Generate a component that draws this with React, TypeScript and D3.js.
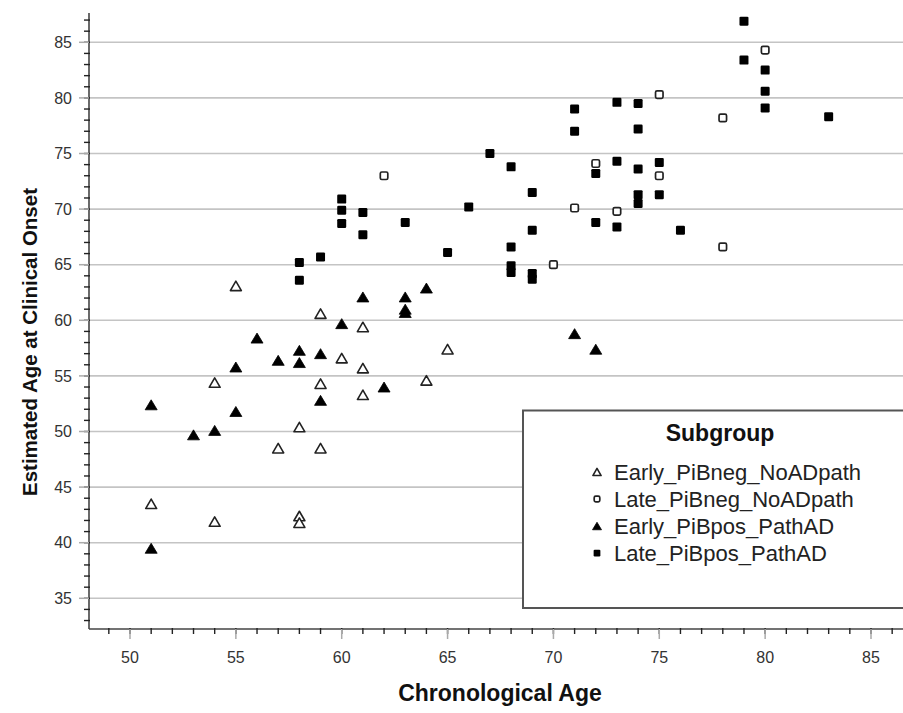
import React from "react";
import * as d3 from "d3";

const earlyNegAge = [51, 54, 54, 55, 57, 58, 58, 58, 59, 59, 59, 60, 61, 61, 61, 64, 65];
const earlyNegOnset = [43.5, 54.4, 41.9, 63.1, 48.5, 50.4, 42.4, 41.8, 60.6, 54.3, 48.5, 56.6, 59.4, 55.7, 53.3, 54.6, 57.4];

const lateNegAge = [62, 70, 71, 72, 73, 75, 75, 78, 78, 80];
const lateNegOnset = [73.0, 65.0, 70.1, 74.1, 69.8, 80.3, 73.0, 78.2, 66.6, 84.3];

const earlyPosAge = [51, 51, 53, 54, 55, 55, 56, 57, 58, 58, 59, 59, 60, 61, 62, 63, 63, 63, 64, 71, 72];
const earlyPosOnset = [52.4, 39.5, 49.7, 50.1, 55.8, 51.8, 58.4, 56.4, 57.3, 56.2, 57.0, 52.8, 59.7, 62.1, 54.0, 62.1, 61.0, 60.7, 62.9, 58.8, 57.4];

const latePosAge = [58, 58, 59, 60, 60, 60, 61, 61, 63, 65, 66, 67, 68, 68, 68, 68, 69, 69, 69, 69, 71, 71, 72, 72, 73, 73, 73, 74, 74, 74, 74, 74, 75, 75, 76, 79, 79, 80, 80, 80, 83];
const latePosOnset = [65.2, 63.6, 65.7, 70.9, 69.9, 68.7, 69.7, 67.7, 68.8, 66.1, 70.2, 75.0, 73.8, 66.6, 64.9, 64.3, 71.5, 68.1, 64.2, 63.7, 79.0, 77.0, 73.2, 68.8, 79.6, 74.3, 68.4, 79.5, 77.2, 73.6, 71.3, 70.5, 74.2, 71.3, 68.1, 86.9, 83.4, 82.5, 80.6, 79.1, 78.3];

const xTicks = [50, 55, 60, 65, 70, 75, 80, 85];
const yTicks = [35, 40, 45, 50, 55, 60, 65, 70, 75, 80, 85];
const legendLabels = ["Early_PiBneg_NoADpath", "Late_PiBneg_NoADpath", "Early_PiBpos_PathAD", "Late_PiBpos_PathAD"];
const legendTitle = "Subgroup";
const xLabel = "Chronological Age";
const yLabel = "Estimated Age at Clinical Onset";

const FONT = "'Liberation Sans', Arial, sans-serif";

type Kind = "tri" | "sq";

function Marker({ cx, cy, kind, filled, s = 1 }: { cx: number; cy: number; kind: Kind; filled: boolean; s?: number }) {
  if (kind === "tri") {
    const w = (filled ? 12 : 11) * s;
    const h = (filled ? 10 : 9.5) * s;
    const d = `M${cx},${cy - h / 2}L${cx + w / 2},${cy + h / 2}L${cx - w / 2},${cy + h / 2}Z`;
    return filled ? (
      <path d={d} fill="#000" stroke="#000" strokeWidth={0.8} strokeLinejoin="round" />
    ) : (
      <path d={d} fill="#fff" stroke="#222" strokeWidth={1.6} strokeLinejoin="round" />
    );
  }
  if (filled) {
    const a = 9 * s;
    return <rect x={cx - a / 2} y={cy - a / 2} width={a} height={a} rx={1.2} fill="#000" />;
  }
  const a = 7.5 * s;
  return <rect x={cx - a / 2} y={cy - a / 2} width={a} height={a} rx={1.5} fill="#fff" stroke="#222" strokeWidth={1.7} />;
}

export default function App() {
  const W = 903;
  const H = 713;
  const x = d3.scaleLinear().domain([50, 85]).range([130, 871]);
  const y = d3.scaleLinear().domain([35, 85]).range([598.3, 42.3]);
  const axisX = 89;
  const axisY = 629;

  const xMinor = d3.range(49, 87);
  const yMinor = d3.range(33, 88);

  const series: { ages: number[]; onsets: number[]; kind: Kind; filled: boolean }[] = [
    { ages: earlyNegAge, onsets: earlyNegOnset, kind: "tri", filled: false },
    { ages: lateNegAge, onsets: lateNegOnset, kind: "sq", filled: false },
    { ages: earlyPosAge, onsets: earlyPosOnset, kind: "tri", filled: true },
    { ages: latePosAge, onsets: latePosOnset, kind: "sq", filled: true },
  ];

  const legX = 523;
  const legY = 410.5;
  const legH = 197.5;

  return (
    <div style={{ position: "fixed", left: 0, top: 0, width: W, height: H, background: "#fff" }}>
      <svg width={W} height={H} style={{ display: "block" }} fontFamily={FONT}>
        <rect x={0} y={0} width={W} height={H} fill="#fff" />
        {/* grid */}
        {yTicks.map((t) => (
          <line key={"g" + t} x1={axisX} x2={W} y1={y(t)} y2={y(t)} stroke="#c4c4c4" strokeWidth={1.6} />
        ))}
        {/* y axis */}
        <line x1={axisX} x2={axisX} y1={13} y2={axisY} stroke="#444" strokeWidth={1.6} />
        {yMinor.map((t) => (
          <line key={"ym" + t} x1={axisX - 5} x2={axisX + 1} y1={y(t)} y2={y(t)} stroke="#222" strokeWidth={1.4} />
        ))}
        {yTicks.map((t) => (
          <g key={"yt" + t}>
            <line x1={axisX - 10} x2={axisX} y1={y(t)} y2={y(t)} stroke="#aaa" strokeWidth={1.5} />
            <text x={72} y={y(t)} dy="0.36em" textAnchor="end" fontSize={16} fill="#333">
              {t}
            </text>
          </g>
        ))}
        {/* x axis */}
        <line x1={axisX} x2={W} y1={axisY} y2={axisY} stroke="#444" strokeWidth={1.6} />
        {xMinor.map((t) => (
          <line key={"xm" + t} x1={x(t)} x2={x(t)} y1={axisY - 1} y2={axisY + 5} stroke="#222" strokeWidth={1.4} />
        ))}
        {xTicks.map((t) => (
          <g key={"xt" + t}>
            <line x1={x(t)} x2={x(t)} y1={axisY} y2={axisY + 10} stroke="#aaa" strokeWidth={1.5} />
            <text x={x(t)} y={663} textAnchor="middle" fontSize={16} fill="#333">
              {t}
            </text>
          </g>
        ))}
        {/* axis labels */}
        <text x={500} y={701} textAnchor="middle" fontSize={23} fontWeight="bold" fill="#111">
          {xLabel}
        </text>
        <text
          transform={`translate(37,342) rotate(-90)`}
          textAnchor="middle"
          fontSize={20.5}
          fontWeight="bold"
          fill="#111"
        >
          {yLabel}
        </text>
        {/* points */}
        {series.map((s, si) =>
          s.ages.map((a, i) => (
            <Marker key={si + "-" + i} cx={x(a)} cy={y(s.onsets[i])} kind={s.kind} filled={s.filled} />
          ))
        )}
        {/* legend */}
        <rect x={legX} y={legY} width={420} height={legH} fill="#fff" stroke="#555" strokeWidth={2} />
        <text x={720} y={441} textAnchor="middle" fontSize={23} fontWeight="bold" fill="#111">
          {legendTitle}
        </text>
        {legendLabels.map((lab, i) => {
          const cy = 472 + i * 27;
          const s = series[i];
          return (
            <g key={lab}>
              <Marker cx={597} cy={cy} kind={s.kind} filled={s.filled} s={0.75} />
              <text x={614} y={cy} dy="0.36em" fontSize={22} fill="#222">
                {lab}
              </text>
            </g>
          );
        })}
      </svg>
    </div>
  );
}
